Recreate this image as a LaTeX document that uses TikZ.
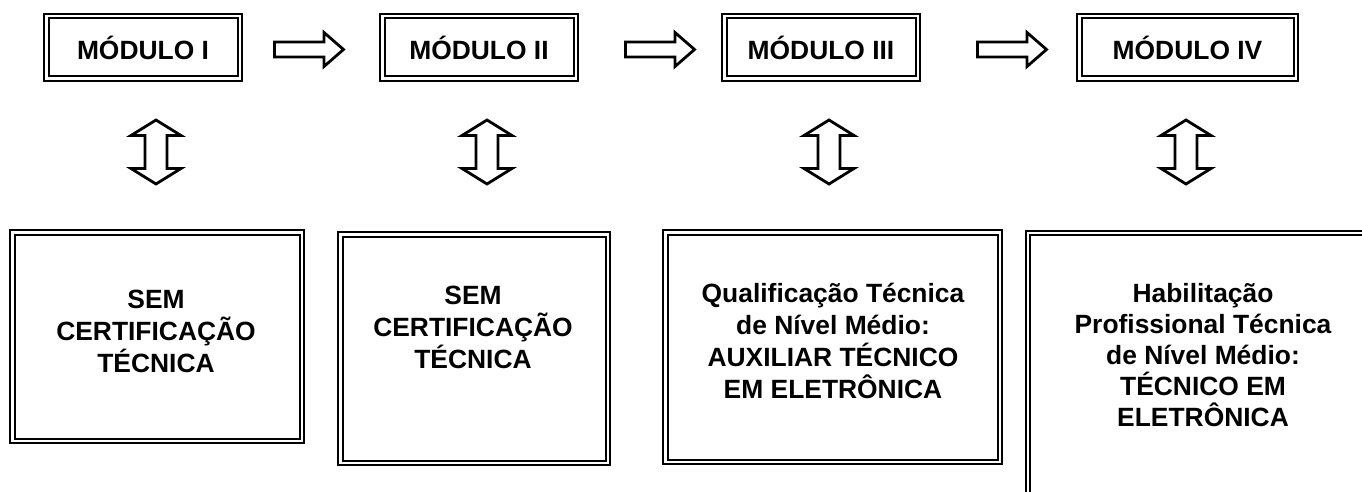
\documentclass[tikz,border=0pt]{standalone}
\usepackage{fontspec}
\setmainfont{Liberation Sans}
\begin{document}
\begin{tikzpicture}[x=1pt,y=-1pt,
  dbox/.style={draw, line width=2pt, double=white, double distance=2.5pt, inner sep=0pt, rectangle},
  lbl/.style={font=\bfseries\fontsize{26.4}{32}\selectfont, align=center, inner sep=0pt},
  blk/.style={draw, line width=2.8pt, fill=white, line join=miter},
  vdarrow/.pic={\draw[blk] (0,-32) -- (25,-16.5) -- (11,-16.5) -- (11,16.5) -- (25,16.5) -- (0,32) -- (-25,16.5) -- (-11,16.5) -- (-11,-16.5) -- (-25,-16.5) -- cycle;},
  harrow/.pic={\draw[blk] (-35,-7.5) -- (14.5,-7.5) -- (14.5,-17) -- (34,0) -- (14.5,17) -- (14.5,7.5) -- (-35,7.5) -- cycle;}]
\useasboundingbox (0,0) rectangle (1362,492);
\clip (0,0) rectangle (1362,492);
% module boxes
\node[dbox, lbl, minimum width=193.5pt, minimum height=62.5pt] (m1) at (143,47.5) {MÓDULO I};
\node[dbox, lbl, minimum width=193.5pt, minimum height=62.5pt] (m2) at (479,47.5) {MÓDULO II};
\node[dbox, lbl, minimum width=193.5pt, minimum height=62.5pt] (m3) at (821,47.5) {MÓDULO III};
\node[dbox, lbl, minimum width=216.5pt, minimum height=62.5pt] (m4) at (1187.5,47.5) {MÓDULO IV};
% horizontal block arrows
\pic at (309.5,49.5) {harrow};
\pic at (660.5,49.5) {harrow};
\pic at (1012.5,49.5) {harrow};
% vertical double arrows
\pic at (156,152) {vdarrow};
\pic at (487,152) {vdarrow};
\pic at (829,152) {vdarrow};
\pic at (1186,152) {vdarrow};
% bottom boxes
\node[dbox, minimum width=289.5pt, minimum height=208.5pt] (b1) at (157,336.5) {};
\node[lbl] (t1) at (156,331) {SEM\\CERTIFICAÇÃO\\TÉCNICA};
\node[dbox, minimum width=267.5pt, minimum height=228.5pt] (b2) at (474,348.5) {};
\node[lbl] (t2) at (473,327) {SEM\\CERTIFICAÇÃO\\TÉCNICA};
\node[dbox, minimum width=334.5pt, minimum height=229.5pt] (b3) at (832.5,347) {};
\node[lbl] (t3) at (833,341) {Qualificação Técnica\\de Nível Médio:\\AUXILIAR TÉCNICO\\EM ELETRÔNICA};
\node[dbox, minimum width=371.75pt, minimum height=326.75pt] (b4) at (1214.1,396.6) {};
\node[lbl, font=\bfseries\fontsize{26.4}{31}\selectfont] (t4) at (1203,355) {Habilitação\\Profissional Técnica\\de Nível Médio:\\TÉCNICO EM\\ELETRÔNICA};
\end{tikzpicture}
\end{document}
